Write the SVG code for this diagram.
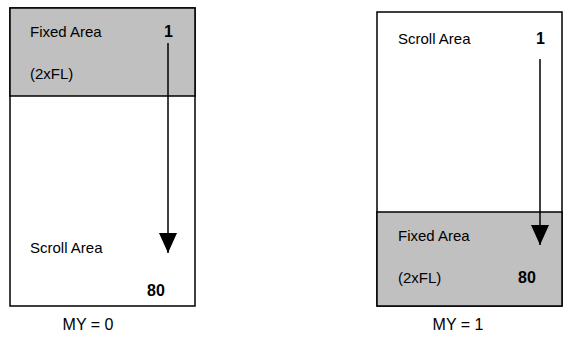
<svg xmlns="http://www.w3.org/2000/svg" width="574" height="354" viewBox="0 0 574 354">
<style>
.box{fill:#fff;stroke:#000;stroke-width:1.5}
.fixed{fill:#c0c0c0;stroke:#000;stroke-width:1.5}
.t{font-family:"Liberation Sans",Arial,sans-serif;font-size:15px;fill:#000}
.b{font-weight:bold;font-size:16px}
.m{font-size:16px;text-anchor:middle}
.arr{stroke:#000;stroke-width:1.5;fill:none}
</style>
<defs>
<marker id="ah" markerWidth="20" markerHeight="18" refX="20" refY="9" orient="auto" markerUnits="userSpaceOnUse" viewBox="0 0 20 18">
<path d="M0,0 L20,9 L0,18 Z" fill="#000"/>
</marker>
</defs>
<g id="left">
<rect class="box" x="10" y="8" width="185" height="298"/>
<rect class="fixed" x="10" y="8" width="185" height="88"/>
<text class="t" x="30" y="37">Fixed Area</text>
<text class="t b" x="164" y="37">1</text>
<text class="t" x="30" y="79">(2xFL)</text>
<text class="t" x="30" y="253">Scroll Area</text>
<text class="t b" x="147" y="296">80</text>
</g>
<g id="right">
<rect class="box" x="377" y="12" width="185" height="294"/>
<rect class="fixed" x="377" y="212" width="185" height="94"/>
<text class="t" x="398" y="44">Scroll Area</text>
<text class="t b" x="536" y="44">1</text>
<text class="t" x="398" y="241">Fixed Area</text>
<text class="t" x="398" y="283">(2xFL)</text>
<text class="t b" x="518" y="283">80</text>
</g>
<g id="connectors">
<line class="arr" x1="168" y1="43" x2="168" y2="253" marker-end="url(#ah)"/>
<line class="arr" x1="540" y1="59" x2="540" y2="245" marker-end="url(#ah)"/>
</g>
<g id="labels">
<text class="t m" x="88" y="330">MY = 0</text>
<text class="t m" x="458" y="330">MY = 1</text>
</g>
</svg>
